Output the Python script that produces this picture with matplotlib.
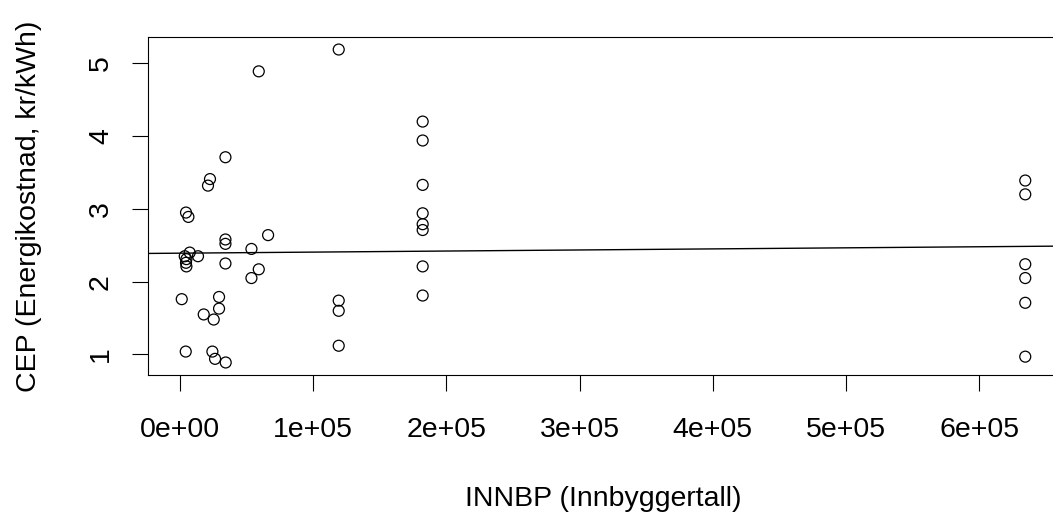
import numpy as np
import matplotlib
matplotlib.use("Agg")
import matplotlib.pyplot as plt
from matplotlib.ticker import FuncFormatter

# Data (INNBP population vs CEP energy cost)
innbp = [59300, 34300, 22700, 21200, 4700, 6500, 34300, 34300, 66300, 53800,
         7500, 3750, 13700, 5000, 4700, 5000, 34300, 59300, 53800, 1500,
         29500, 29500, 18000, 25500, 4500, 24500, 26500, 34500,
         119300, 119300, 119300, 119300,
         182300, 182300, 182300, 182300, 182300, 182300, 182300, 182300,
         634500, 634500, 634500, 634500, 634500, 634500]
cep = [4.89, 3.71, 3.41, 3.32, 2.95, 2.89, 2.58, 2.52, 2.64, 2.45,
       2.40, 2.35, 2.35, 2.31, 2.26, 2.21, 2.25, 2.17, 2.05, 1.76,
       1.79, 1.63, 1.55, 1.48, 1.04, 1.04, 0.94, 0.89,
       5.19, 1.74, 1.60, 1.12,
       4.20, 3.94, 3.33, 2.94, 2.79, 2.71, 2.21, 1.81,
       3.39, 3.20, 2.24, 2.05, 1.71, 0.97]
x_ticks = [0, 1e5, 2e5, 3e5, 4e5, 5e5, 6e5]
y_ticks = [1, 2, 3, 4, 5]
x_label = "INNBP (Innbyggertall)"
y_label = "CEP (Energikostnad, kr/kWh)"

plt.rcParams['font.family'] = ['Liberation Sans', 'DejaVu Sans']
W, H, DPI = 1053, 521, 100
fig = plt.figure(figsize=(W / DPI, H / DPI), dpi=DPI)

# axes box in pixels (R-like plot region; right edge runs past the image)
left, right, top, bottom = 148, 1059, 37, 375
ax = fig.add_axes([left / W, 1 - bottom / H, (right - left) / W, (bottom - top) / H])

x = np.array(innbp, dtype=float)
y = np.array(cep, dtype=float)

ax.scatter(x, y, s=62, facecolors='none', edgecolors='black', linewidths=0.9, zorder=3)

# R-style 4% axis extension
xr = x.max() - x.min()
yr = y.max() - y.min()
xlim = (x.min() - 0.04 * xr, x.max() + 0.04 * xr)
ylim = (y.min() - 0.04 * yr, y.max() + 0.04 * yr)
ax.set_xlim(xlim)
ax.set_ylim(ylim)

# least squares regression line (abline)
slope, intercept = np.polyfit(x, y, 1)
xx = np.array(xlim)
ax.plot(xx, intercept + slope * xx, color='black', lw=1.0, zorder=2)

def r_sci(v, pos):
    if v == 0:
        return "0e+00"
    e = int(np.floor(np.log10(abs(v))))
    m = v / 10 ** e
    return f"{m:g}e+{e:02d}"

ax.set_xticks(x_ticks)
ax.xaxis.set_major_formatter(FuncFormatter(r_sci))
ax.set_yticks(y_ticks)
ax.set_yticklabels([str(t) for t in y_ticks], rotation=90, va='center')

fs = 20.5
ax.tick_params(axis='both', direction='out', length=11.5, width=0.8,
               labelsize=fs, color='black')
ax.tick_params(axis='x', pad=18.5)
ax.tick_params(axis='y', pad=13)
for sp in ax.spines.values():
    sp.set_linewidth(0.8)

fig.text((left + right) / 2 / W, 1 - 499 / H, x_label, ha='center', va='center', fontsize=fs)
fig.text(29 / W, 1 - (top + bottom) / 2 / H, y_label, ha='center', va='center',
         rotation=90, fontsize=fs)

fig.savefig("out.png", dpi=DPI)
